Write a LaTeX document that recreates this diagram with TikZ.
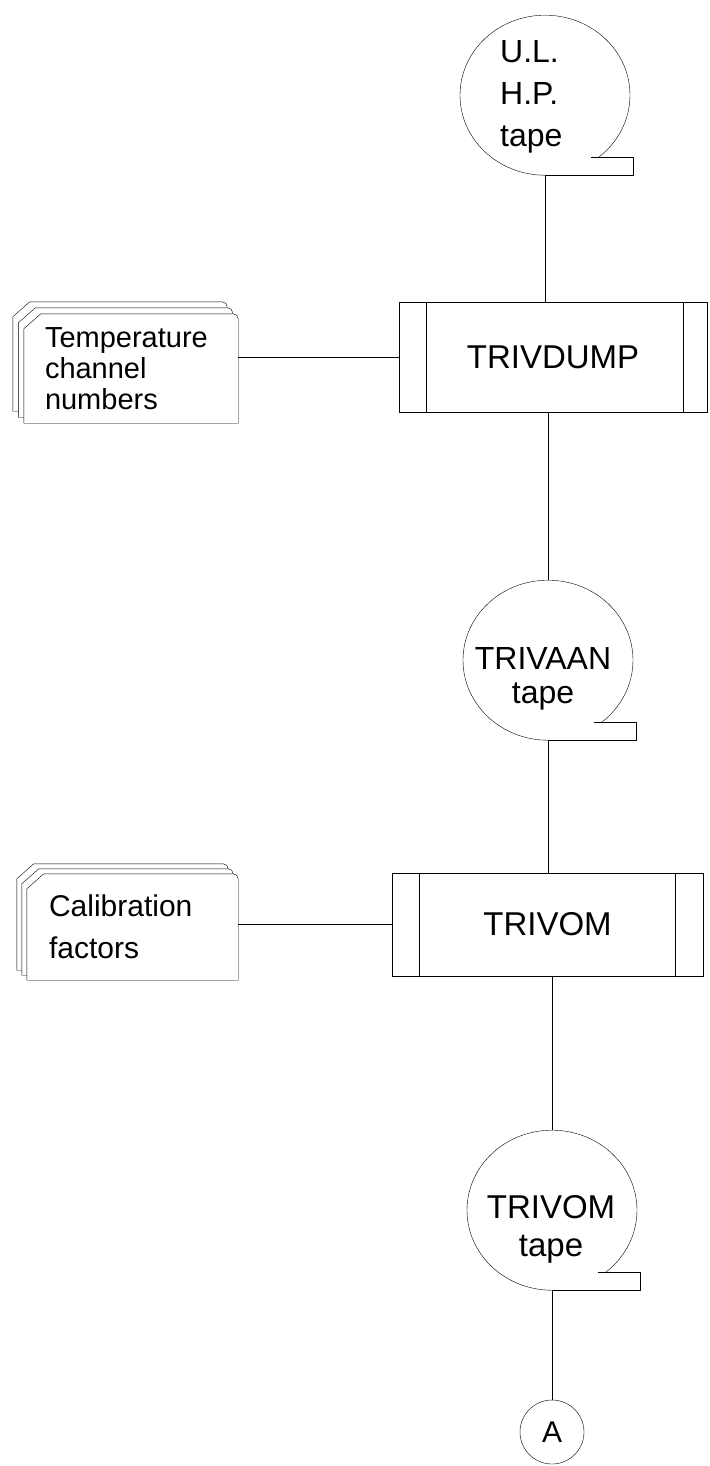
\documentclass[tikz,border=0pt]{standalone}
\usepackage{fontspec}
\setmainfont{Liberation Sans}
\usetikzlibrary{calc}
\pgfdeclarelayer{background}
\pgfsetlayers{background,main}
% tape symbol drawn round an invisible node
\newcommand\tapedraw[1]{%
  \draw (#1.south) arc[start angle=270, end angle=-50.8, x radius=85pt, y radius=80pt];
  \draw ([shift={(46,18)}]#1.south) -- ([shift={(88,18)}]#1.south)
        -- ([shift={(88,0)}]#1.south) -- (#1.south);
}
% one sheet of a document stack, shifted by (#2,#3)
\newcommand\sheetdraw[3]{%
  \filldraw[fill=white] ([shift={(#2,#3)}]#1.south west)
    -- ([shift={(#2,#3-15)}]#1.north west)
    -- ([shift={(#2+17,#3)}]#1.north west)
    -- ([shift={(#2-5,#3)}]#1.north east)
    to[out=0,in=90] ([shift={(#2,#3-5)}]#1.north east)
    -- ([shift={(#2,#3)}]#1.south east) -- cycle;
}
\begin{document}
\begin{tikzpicture}[x=1pt,y=1pt,line width=2.3pt,line join=round,
  proc/.style={draw,rectangle,inner sep=0pt,font=\fontsize{33}{33}\selectfont},
  sheetA/.style={draw=none,rectangle,inner xsep=21pt,inner ysep=0pt,text width=172pt,
     minimum height=109pt,align=left,font=\fontsize{29}{31}\selectfont},
  sheetB/.style={draw=none,rectangle,inner xsep=22pt,inner ysep=0pt,text width=167pt,
     minimum height=106pt,align=left,font=\fontsize{30}{42}\selectfont},
  tapebox/.style={draw=none,rectangle,inner sep=0pt,minimum width=170pt,minimum height=160pt},
  tapetext/.style={inner sep=0pt},
  offpage/.style={draw,circle,minimum size=64pt,inner sep=0pt,font=\fontsize{30}{30}\selectfont}]
\begin{pgfonlayer}{background}
\fill[white] (0,0) rectangle (709,-1466);
\end{pgfonlayer}
\useasboundingbox (0,0) rectangle (709,-1466);

% tapes
\node[tapebox] (t1) at (545,-95) {};
\node[tapetext,anchor=west,align=left,font=\fontsize{32}{42}\selectfont] (tx1) at (500,-97) {U.L.\\H.P.\\tape};
\tapedraw{t1}

\node[tapebox] (t2) at (548,-660) {};
\node[tapetext,align=center,font=\fontsize{32}{34}\selectfont] (tx2) at (543,-679) {TRIVAAN\\tape};
\tapedraw{t2}

\node[tapebox] (t3) at (552,-1210) {};
\node[tapetext,align=center,font=\fontsize{33}{38}\selectfont] (tx3) at (551,-1229) {TRIVOM\\tape};
\tapedraw{t3}

% processes
\node[proc,minimum width=308pt,minimum height=110pt] (p1) at (553,-357) {TRIVDUMP};
\draw ([xshift=27pt]p1.north west) -- ([xshift=27pt]p1.south west);
\draw ([xshift=-24pt]p1.north east) -- ([xshift=-24pt]p1.south east);

\node[proc,minimum width=311pt,minimum height=103pt] (p2) at (547.5,-924.5) {TRIVOM};
\draw ([xshift=27pt]p2.north west) -- ([xshift=27pt]p2.south west);
\draw ([xshift=-28pt]p2.north east) -- ([xshift=-28pt]p2.south east);

% document stacks
\node[sheetA] (d1) at (131,-368.5) {Temperature\\channel\\numbers};
\begin{pgfonlayer}{background}
\sheetdraw{d1}{-11}{12}
\sheetdraw{d1}{-5.5}{6}
\sheetdraw{d1}{0}{0}
\end{pgfonlayer}

\node[sheetB] (d2) at (132.5,-927) {Calibration\\factors};
\begin{pgfonlayer}{background}
\sheetdraw{d2}{-10}{10}
\sheetdraw{d2}{-5}{5}
\sheetdraw{d2}{0}{0}
\end{pgfonlayer}

% off-page connector
\node[offpage] (a) at (552,-1432) {A};

% connectors
\draw (t1.south) -- (t1.south |- p1.north);
\draw (p1.west -| d1.east) -- (p1.west);
\draw (t2.north |- p1.south) -- (t2.north);
\draw (t2.south) -- (t2.south |- p2.north);
\draw (p2.west -| d2.east) -- (p2.west);
\draw (t3.north |- p2.south) -- (t3.north);
\draw (t3.south) -- (a.north);
\end{tikzpicture}
\end{document}
